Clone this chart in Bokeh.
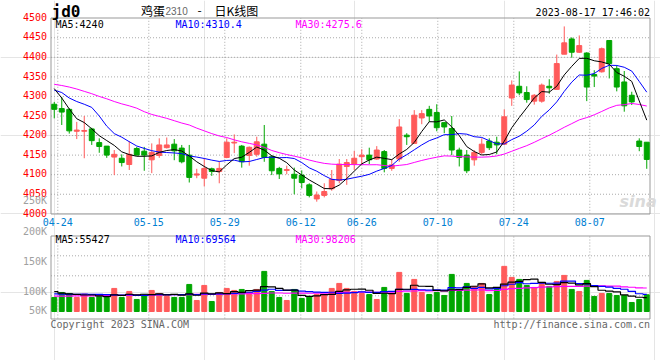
import pandas as pd
from bokeh.plotting import figure
from bokeh.models import Range1d, Label, ColumnDataSource
from bokeh.embed import file_html
from bokeh.resources import INLINE

# ---------------- data ----------------
holidays = ["2023-05-01", "2023-05-02", "2023-05-03", "2023-06-22", "2023-06-23"]
dates = [d.strftime("%Y-%m-%d") for d in pd.bdate_range("2023-04-21", "2023-08-17")
         if d.strftime("%Y-%m-%d") not in holidays]

opens = [4280, 4269, 4267, 4211, 4211, 4217, 4182, 4173, 4145, 4142,
         4126, 4167, 4160, 4138, 4149, 4169, 4178, 4168, 4150, 4099,
         4091, 4115, 4108, 4144, 4181, 4173, 4149, 4152, 4178, 4146,
         4116, 4111, 4101, 4099, 4074, 4038, 4047, 4064, 4085, 4121,
         4127, 4146, 4150, 4140, 4159, 4116, 4140, 4201, 4180, 4245,
         4267, 4259, 4233, 4218, 4163, 4150, 4138, 4157, 4186, 4183,
         4178, 4296, 4326, 4310, 4288, 4288, 4326, 4318, 4408, 4447,
         4413, 4411, 4356, 4363, 4443, 4371, 4337, 4303, 4186, 4183]
highs = [4286, 4299, 4270, 4235, 4250, 4220, 4193, 4173, 4163, 4152,
         4186, 4171, 4171, 4180, 4193, 4195, 4191, 4176, 4176, 4115,
         4142, 4118, 4133, 4193, 4203, 4176, 4172, 4197, 4227, 4150,
         4120, 4123, 4118, 4111, 4078, 4057, 4078, 4112, 4140, 4140,
         4161, 4165, 4169, 4173, 4163, 4139, 4242, 4206, 4265, 4265,
         4276, 4280, 4235, 4250, 4169, 4163, 4163, 4193, 4193, 4197,
         4267, 4341, 4364, 4326, 4306, 4333, 4344, 4407, 4479, 4451,
         4456, 4413, 4367, 4425, 4443, 4380, 4365, 4312, 4193, 4183]
lows = [4244, 4227, 4205, 4191, 4142, 4176, 4156, 4143, 4099, 4121,
        4112, 4149, 4110, 4104, 4143, 4167, 4137, 4129, 4080, 4091,
        4070, 4097, 4078, 4142, 4155, 4118, 4123, 4146, 4133, 4099,
        4089, 4101, 4050, 4065, 4042, 4031, 4042, 4059, 4078, 4074,
        4112, 4127, 4127, 4138, 4106, 4110, 4133, 4176, 4180, 4229,
        4235, 4211, 4206, 4150, 4121, 4104, 4123, 4152, 4163, 4152,
        4176, 4276, 4303, 4284, 4279, 4284, 4307, 4318, 4408, 4399,
        4411, 4288, 4324, 4361, 4346, 4313, 4261, 4278, 4160, 4115]
closes = [4267, 4260, 4212, 4214, 4213, 4187, 4172, 4150, 4152, 4131,
          4152, 4150, 4150, 4157, 4176, 4176, 4161, 4133, 4093, 4102,
          4116, 4108, 4116, 4183, 4183, 4133, 4170, 4184, 4144, 4110,
          4102, 4113, 4091, 4080, 4047, 4048, 4057, 4088, 4127, 4131,
          4142, 4150, 4138, 4163, 4116, 4125, 4222, 4197, 4252, 4256,
          4250, 4220, 4222, 4163, 4144, 4110, 4157, 4178, 4169, 4176,
          4248, 4329, 4309, 4292, 4303, 4329, 4322, 4384, 4437, 4413,
          4430, 4324, 4352, 4422, 4384, 4324, 4276, 4286, 4172, 4139]
volumes = [55900, 75800, 71800, 55900, 69200, 55900, 59900, 55900, 91800, 55900,
           79800, 47900, 67800, 83800, 71800, 59900, 55900, 55900, 107700, 43900,
           103700, 39900, 75800, 91800, 83800, 87800, 75800, 87800, 159600, 79800,
           55900, 43900, 87800, 51900, 59900, 67800, 67800, 91800, 111700, 91800,
           79800, 71800, 67800, 47900, 95800, 71800, 155600, 71800, 127700, 75800,
           67800, 75800, 63800, 147600, 79800, 111700, 99800, 111700, 67800, 87800,
           179600, 135700, 127700, 103700, 95800, 115700, 99800, 119700, 143600, 87800,
           79800, 123700, 59900, 71800, 71800, 63800, 63800, 35900, 47900, 66500]

# moving-average values before enough bars exist
ma5_head = [4320, 4296, 4268, 4243]
ma10_head = [4316, 4310, 4296, 4287, 4280, 4272, 4250, 4224, 4205]
ma30_head = [4331, 4328, 4324, 4319, 4313, 4307, 4300, 4294, 4287, 4281,
             4276, 4270, 4261, 4254, 4249, 4244, 4238, 4232, 4227, 4219,
             4212, 4205, 4199, 4195, 4189, 4184, 4180, 4176, 4170]
vma5_head = [79000, 73000, 70000, 68000]
vma10_head = [70000, 69000, 68500, 68000, 69000, 68500, 68000, 67000, 66000]
vma30_head = [61000, 61500, 61000, 62000, 62500, 62000, 63000, 63500, 64000, 64000,
              64500, 65000, 65500, 65000, 66000, 66500, 67000, 67000, 67500, 68000,
              68500, 68500, 69000, 69500, 70000, 70500, 71000, 71500, 72000]

tick_labels = ["04-24", "05-15", "05-29", "06-12", "06-26", "07-10", "07-24", "08-07"]
price_ticks = [4000, 4050, 4100, 4150, 4200, 4250, 4300, 4350, 4400, 4450, 4500]
vol_axis_labels = ["250K", "200K", "150K", "100K", "50K"]

title_code = "jd0"
title_name = "鸡蛋"
title_contract = "2310"
title_tail = "日K线图"
stamp = "2023-08-17 17:46:02"
ma_texts = ["MA5:4240", "MA10:4310.4", "MA30:4275.6"]
vma_texts = ["MA5:55427", "MA10:69564", "MA30:98206"]
copyright_text = "Copyright 2023 SINA.COM"
url_text = "http://finance.sina.com.cn"


def moving(vals, n, head):
    out = list(head)
    for i in range(n - 1, len(vals)):
        out.append(sum(vals[i - n + 1:i + 1]) / n)
    return out


ma5 = moving(closes, 5, ma5_head)
ma10 = moving(closes, 10, ma10_head)
ma30 = moving(closes, 30, ma30_head)
vma5 = moving(volumes, 5, vma5_head)
vma10 = moving(volumes, 10, vma10_head)
vma30 = moving(volumes, 30, vma30_head)

# ---------------- layout helpers (canvas pixel -> data) ----------------
RED = "#ff5a5a"
GREEN = "#00a600"
MONO = "DejaVu Sans Mono"
CJK = "Noto Sans CJK SC"
GRID = "#aaaaaa"
FRAME = "#999999"
PX_PER_PT = 0.3912   # price panel: pixels per price unit
VPP = 3980.0         # volume panel: volume units per pixel
WIDTH, HEIGHT = 660, 360


def X(wx):
    return (wx - 50) / 7.5 - 0.5


def Y(wy):
    return 4500 - (wy - 17.7) / PX_PER_PT


def V(wy):
    return (311 - wy) * VPP


tick_x = [X(px) for px in (57.3, 148.3, 224.3, 300.3, 361.3, 437.3, 513.3, 589.3)]

idx = list(range(len(closes)))
colors = [RED if c >= o else GREEN for o, c in zip(opens, closes)]
src = ColumnDataSource(dict(
    x=idx, date=dates, open=opens, high=highs, low=lows, close=closes,
    top=[max(o, c) for o, c in zip(opens, closes)],
    bottom=[min(o, c) for o, c in zip(opens, closes)],
    color=colors, vol=volumes))

p = figure(width=WIDTH, height=HEIGHT, x_range=Range1d(X(0), X(WIDTH)),
           y_range=Range1d(Y(HEIGHT), Y(0)), title=None,
           output_backend="svg", toolbar_location=None, tools="",
           x_axis_location=None, y_axis_location=None, min_border=0)
p.extra_y_ranges = {"vol": Range1d(V(HEIGHT), V(0))}
p.outline_line_color = None
p.background_fill_color = "white"
p.border_fill_color = "white"

# ---- grid lines (dotted) ----
L, R = X(50.5), X(649.5)
hg = price_ticks[1:-1]
p.segment(x0=[L] * len(hg), y0=hg, x1=[R] * len(hg), y1=hg,
          line_color=GRID, line_dash="1 2", line_width=1)
p.segment(x0=tick_x, y0=[4000] * len(tick_x), x1=tick_x, y1=[4500] * len(tick_x),
          line_color=GRID, line_dash="1 2", line_width=1)
vg = [V(255.3), V(275.3), V(295.3)]
p.segment(x0=[L] * len(vg), y0=vg, x1=[R] * len(vg), y1=vg,
          line_color=GRID, line_dash="1 2", line_width=1, y_range_name="vol")
p.segment(x0=tick_x, y0=[V(318)] * len(tick_x), x1=tick_x, y1=[V(235)] * len(tick_x),
          line_color=GRID, line_dash="1 2", line_width=1, y_range_name="vol")

# ---- panel frames ----
p.quad(left=[L], right=[R], bottom=[Y(213.5)], top=[Y(17.5)],
       fill_color=None, line_color=FRAME, line_width=1)
p.quad(left=[L], right=[R], bottom=[V(318.5)], top=[V(235.5)],
       fill_color=None, line_color=FRAME, line_width=1, y_range_name="vol")

# ---- candles ----
p.segment(x0="x", y0="low", x1="x", y1="high", line_color="color", line_width=1, source=src)
p.vbar(x="x", width=0.66, top="top", bottom="bottom", fill_color="color",
       line_color="color", line_width=1, source=src)
p.line(idx, ma30, line_color="#ff00ff", line_width=1)
p.line(idx, ma10, line_color="#0000ff", line_width=1)
p.line(idx, ma5, line_color="#000000", line_width=1)

# ---- volume ----
p.vbar(x="x", width=0.66, top="vol", bottom=0, fill_color="color",
       line_color="color", line_width=1, source=src, y_range_name="vol")
p.step(idx, vma30, mode="center", line_color="#ff00ff", line_width=1.2, y_range_name="vol")
p.step(idx, vma10, mode="center", line_color="#0000ff", line_width=1.2, y_range_name="vol")
p.step(idx, vma5, mode="center", line_color="#000000", line_width=1.2, y_range_name="vol")


def lab(text, wx, wy, color, align="left", font=MONO, size="10px", style="normal"):
    p.add_layout(Label(x=X(wx), y=Y(wy), text=text, text_font=font,
                       text_font_size=size, text_font_style=style, text_color=color,
                       text_baseline="middle", text_align=align))


# price tick labels (left)
for t in price_ticks:
    wy = 17.7 + (4500 - t) * PX_PER_PT
    lab(str(t), 46.5, wy - 1.3, "#ff0000", align="right")
# date tick labels
for tx, t in zip(tick_x, tick_labels):
    p.add_layout(Label(x=tx, y=Y(221.7), text=t, text_font=MONO, text_font_size="10px",
                       text_color="#0080d2", text_baseline="middle", text_align="center"))
# volume axis labels
for t, wy in zip(vol_axis_labels, (200, 231, 261, 290.7, 310)):
    lab(t, 46.5, wy, "#a0a0a0", align="right")

# legends
for txt, wx, col in zip(ma_texts, (55, 175, 295), ("#000000", "#0000ff", "#ff00ff")):
    lab(txt, wx, 23.7, col)
for txt, wx, col in zip(vma_texts, (55, 175, 295), ("#000000", "#0000ff", "#ff00ff")):
    lab(txt, wx, 238.7, col)

# header
lab(title_code, 51, 10.8, "#000000", size="16px", style="bold")
lab(title_name, 140.5, 10.3, "#000000", font=CJK, size="12px")
lab(title_contract, 165, 10.5, "#666666", font="Liberation Sans", size="10px")
lab("-", 197, 10.3, "#000000", font=CJK, size="12px")
lab(title_tail, 214, 10.3, "#000000", font=CJK, size="12px")
lab(stamp, 649.5, 12.2, "#000000", align="right")

# footer
lab(copyright_text, 50, 324, "#666666")
lab(url_text, 649.5, 324, "#666666", align="right")

# watermark
lab("sina", 619, 201, "#dadada", font="DejaVu Sans", size="16px", style="bold italic")

open("out.html", "w").write(file_html(p, INLINE))
